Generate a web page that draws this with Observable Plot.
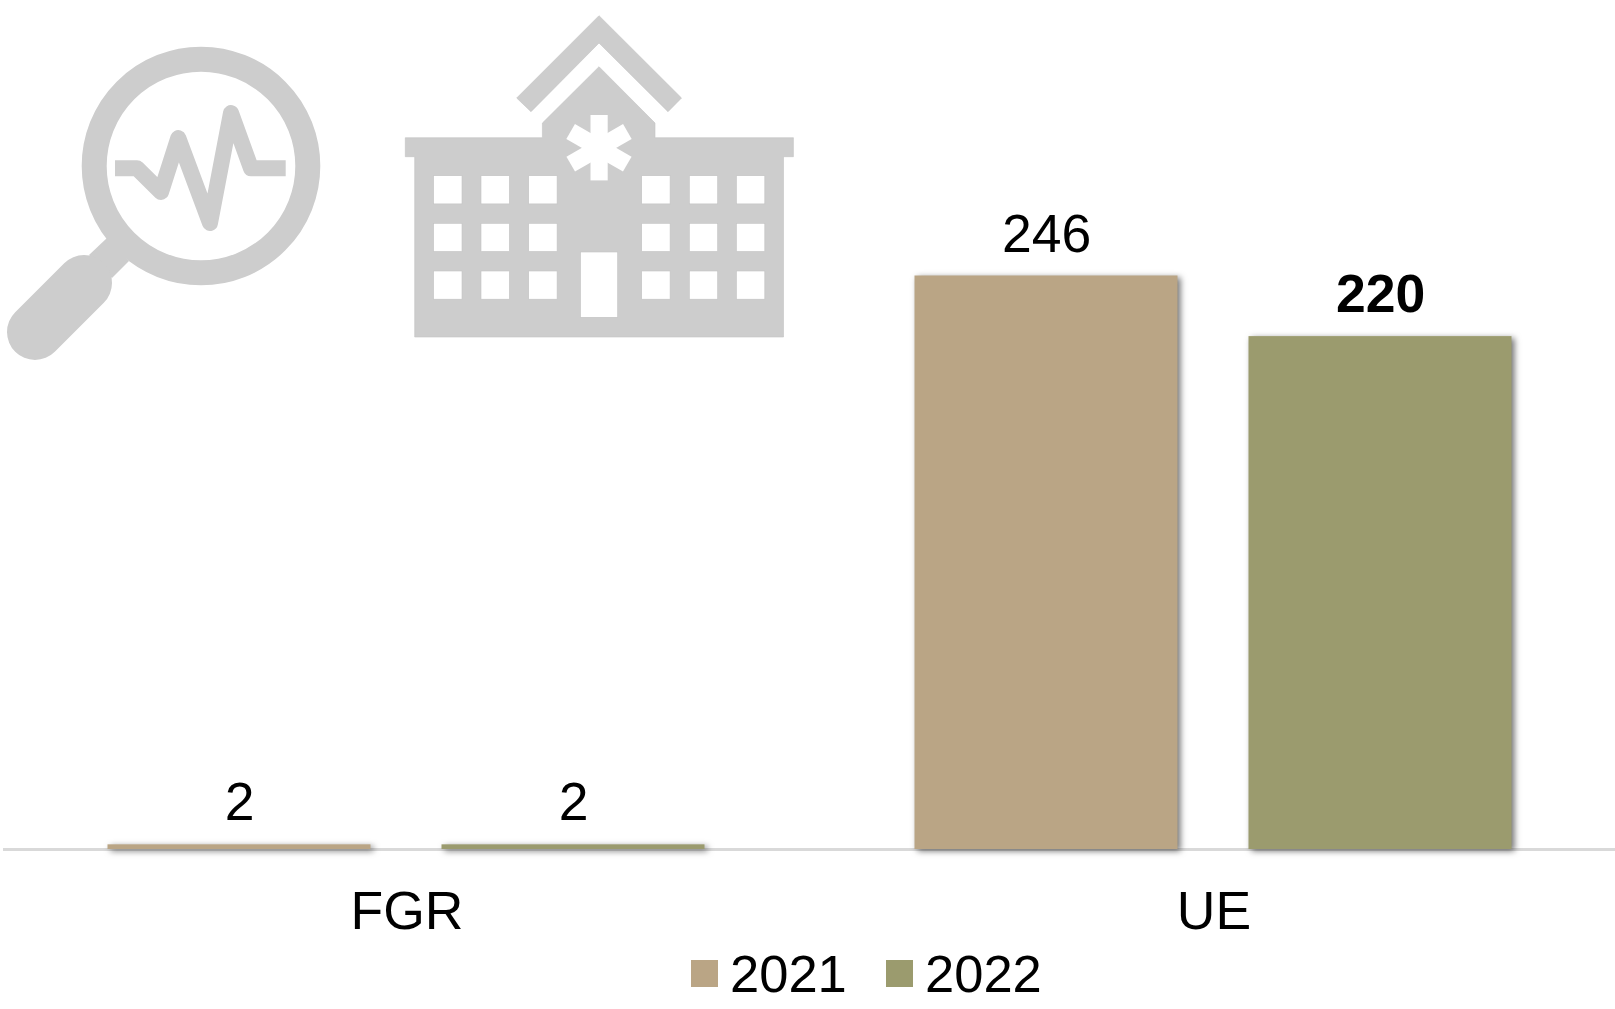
<!DOCTYPE html>
<html>
<head>
<meta charset="utf-8">
<script src="https://cdn.jsdelivr.net/npm/d3@7"></script>
<script src="https://cdn.jsdelivr.net/npm/@observablehq/plot@0.6"></script>
<style>
html,body{margin:0;padding:0;background:#fff;overflow:hidden;font-family:"Liberation Sans",Arial,sans-serif;}
#chart svg{display:block;overflow:visible;font-family:"Liberation Sans",Arial,sans-serif;}
g[aria-label="bar"]{filter:drop-shadow(3px 2px 3px rgba(0,0,0,.55));}
#legend{position:relative;height:64px;font-size:52.5px;line-height:64px;color:#000;}
#legend span{position:absolute;top:-3px;}
#legend i{position:absolute;top:15px;width:27px;height:27px;}
</style>
</head>
<body>
<div id="chart"></div>
<div id="legend"></div>
<script>
const categories = ["FGR", "UE"];
const years = ["2021", "2022"];
const values2021 = [2, 246];
const values2022 = [2, 220];
const colors = ["#baa585", "#9b9b6e"];
const boldValues = [220];

const table = categories.flatMap((category, i) => [
  {category, year: years[0], value: values2021[i]},
  {category, year: years[1], value: values2022[i]}
]);

const windowXs = [433.6, 481, 528.7, 641.7, 689.3, 736.4];
const windowYs = [175.7, 223.3, 271];
const iconMarkup = `
<g fill="#cdcdcd" stroke="none">
  <circle cx="201" cy="166" r="106.8" fill="none" stroke="#cdcdcd" stroke-width="25"/>
  <polygon points="107,238 129,261 112,278 89,255"/>
  <line x1="35" y1="332" x2="84" y2="283" stroke="#cdcdcd" stroke-width="56" stroke-linecap="round"/>
  <polyline points="115,168.3 137,168.3 161,192 178.3,138 210,223 231,113 251,168.3 285.7,168.3" fill="none" stroke="#cdcdcd" stroke-width="16" stroke-linejoin="round"/>
  <polygon points="599,15.7 681.5,98 668,111.7 599,43 531,111.7 516.7,98" stroke="#c2c2c2" stroke-width="0.6"/>
  <polygon points="599,66.7 655,123 655,137.7 793.4,137.7 793.4,156.7 783.5,156.7 783.5,337 414.7,337 414.7,156.7 405.3,156.7 405.3,137.7 542.4,137.7 542.4,123" stroke="#c2c2c2" stroke-width="0.6"/>
</g>
<g fill="#fff" stroke="none">
  ${windowYs.flatMap(y => windowXs.map(x => `<rect x="${x}" y="${y}" width="28.4" height="28.2" stroke="#c2c2c2" stroke-width="0.6"/>`)).join("")}
  <rect x="580.5" y="252" width="37.2" height="65.3" stroke="#c2c2c2" stroke-width="0.6"/>
  ${[0, 60, 120].map(a => `<rect x="590.5" y="115" width="17.2" height="65.4" transform="rotate(${a} 599 147.7)"/>`).join("")}
</g>`;

const plot = Plot.plot({
  width: 1615,
  height: 945,
  marginLeft: 2.5,
  marginRight: -1.5,
  marginTop: 0,
  marginBottom: 96,
  style: {fontFamily: "'Liberation Sans', Arial, sans-serif", background: "transparent"},
  fx: {domain: categories, padding: 0, label: null},
  x: {domain: years, paddingInner: 0.2125, paddingOuter: 0.314, axis: null},
  y: {domain: [0, 246], range: [849, 275.5], axis: null},
  color: {domain: years, range: colors},
  marks: [
    Plot.ruleY([0], {stroke: "#d9d9d9", strokeWidth: 3}),
    Plot.barY(table, {fx: "category", x: "year", y: "value", fill: "year"}),
    Plot.text(table.filter(d => !boldValues.includes(d.value)), {
      fx: "category", x: "year", y: "value", text: d => String(d.value),
      lineAnchor: "bottom", dy: -24.5, fontSize: 53.5, fill: "#000"
    }),
    Plot.text(table.filter(d => boldValues.includes(d.value)), {
      fx: "category", x: "year", y: "value", text: d => String(d.value),
      lineAnchor: "bottom", dy: -24.5, fontSize: 53.5, fontWeight: "bold", fill: "#000"
    }),
    Plot.axisFx({anchor: "bottom", tickSize: 0, tickPadding: 41.5, fontSize: 53.5, label: null, color: "#000"})
  ]
});
d3.select(plot).insert("g", ":first-child").attr("aria-label", "icons").html(iconMarkup);
document.getElementById("chart").append(plot);

const legendX = [691, 886];
const legendTextX = [730, 925];
const legend = document.getElementById("legend");
years.forEach((y, i) => {
  const sw = document.createElement("i");
  sw.style.left = legendX[i] + "px";
  sw.style.background = colors[i];
  legend.append(sw);
  const t = document.createElement("span");
  t.style.left = legendTextX[i] + "px";
  t.textContent = y;
  legend.append(t);
});
</script>
</body>
</html>
